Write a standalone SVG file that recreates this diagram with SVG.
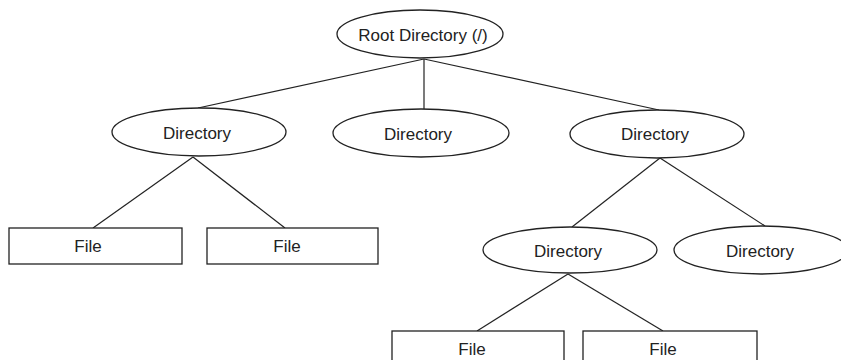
<svg xmlns="http://www.w3.org/2000/svg" width="841" height="360" viewBox="0 0 841 360">
<style>
.n ellipse, .n rect { fill: #fff; stroke: #222; stroke-width: 1.3; }
.n text { font-family: "Liberation Sans", Arial, sans-serif; font-size: 17px; fill: #222; text-anchor: middle; }
#connectors line { stroke: #222; stroke-width: 1.2; }
</style>
<rect width="841" height="360" fill="#fff"/>
<g id="connectors">
  <line x1="424" y1="59" x2="198" y2="108"/>
  <line x1="424" y1="59" x2="424" y2="109"/>
  <line x1="424" y1="59" x2="659" y2="110"/>
  <line x1="193" y1="157" x2="93" y2="228"/>
  <line x1="193" y1="157" x2="285" y2="228"/>
  <line x1="660" y1="158" x2="572" y2="227"/>
  <line x1="660" y1="158" x2="765" y2="226"/>
  <line x1="568" y1="274" x2="477" y2="331"/>
  <line x1="568" y1="274" x2="663" y2="331"/>
</g>
<g id="root" class="n"><ellipse cx="420" cy="34" rx="83" ry="24"/><text x="423" y="41">Root Directory (/)</text></g>
<g id="dir-left" class="n"><ellipse cx="199" cy="132" rx="87" ry="24"/><text x="197" y="139">Directory</text></g>
<g id="dir-mid" class="n"><ellipse cx="421" cy="133" rx="88" ry="24"/><text x="418" y="140">Directory</text></g>
<g id="dir-right" class="n"><ellipse cx="657" cy="134" rx="87" ry="24"/><text x="655" y="140">Directory</text></g>
<g id="dir-sub-left" class="n"><ellipse cx="570" cy="250" rx="87" ry="23"/><text x="568" y="257">Directory</text></g>
<g id="dir-sub-right" class="n"><ellipse cx="761" cy="250" rx="87" ry="24"/><text x="760" y="257">Directory</text></g>
<g id="file-1" class="n"><rect x="9" y="228" width="173" height="36"/><text x="88" y="252">File</text></g>
<g id="file-2" class="n"><rect x="207" y="228" width="171" height="36"/><text x="287" y="252">File</text></g>
<g id="file-3" class="n"><rect x="392" y="331" width="172" height="40"/><text x="472" y="355">File</text></g>
<g id="file-4" class="n"><rect x="583" y="331" width="174" height="40"/><text x="663" y="355">File</text></g>
</svg>
